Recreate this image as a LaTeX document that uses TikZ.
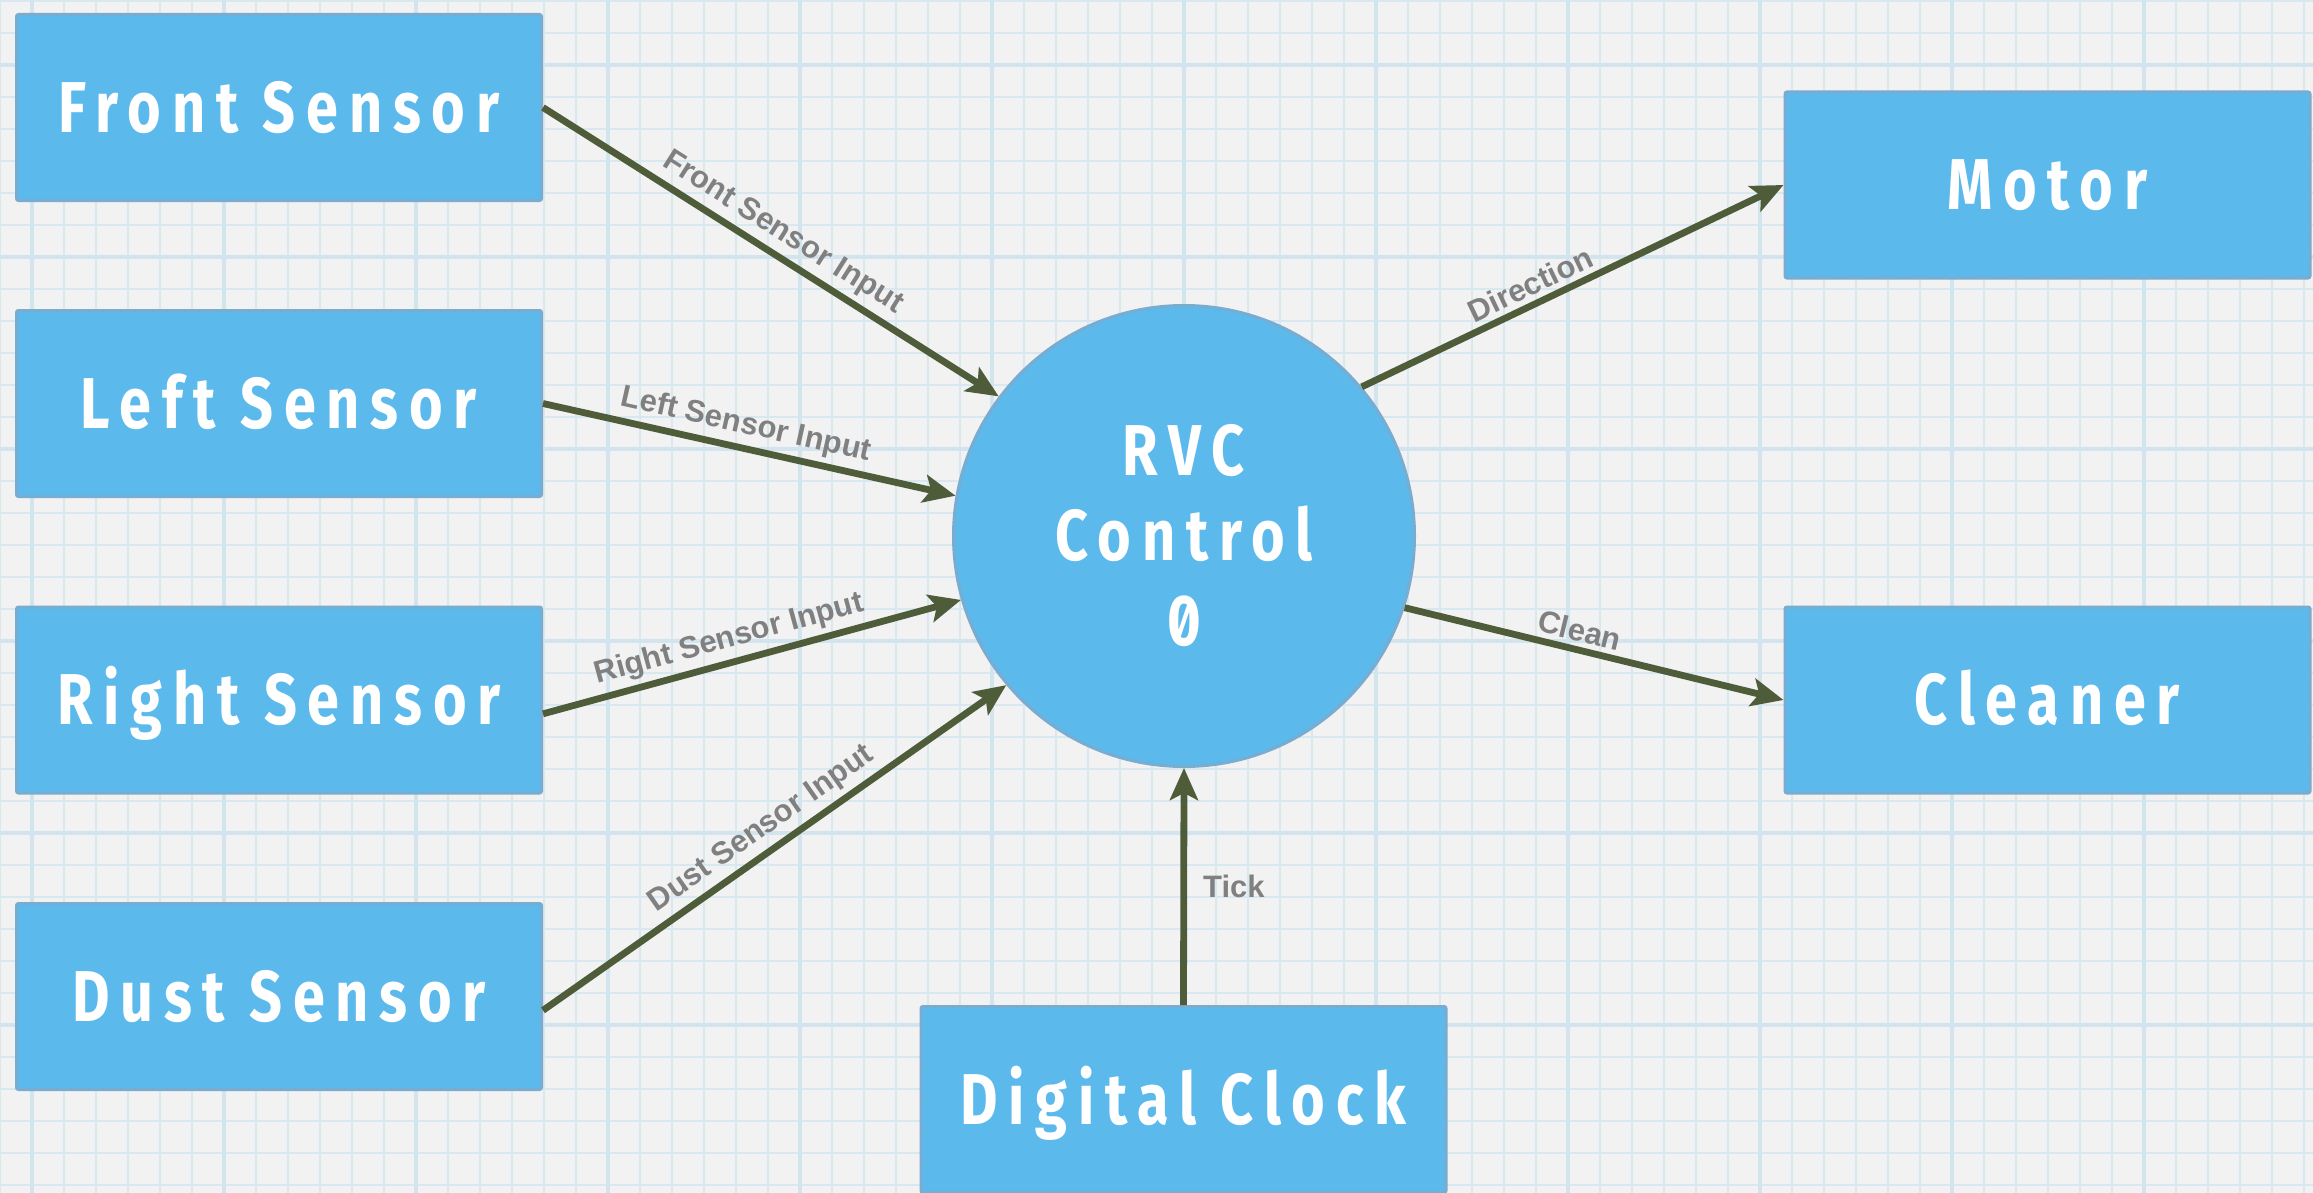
\documentclass[tikz,border=0pt]{standalone}
\usepackage{fontspec}
\setmainfont{Liberation Sans}
\newfontfamily\boxfont[FakeStretch=0.8,LetterSpace=15,Numbers=SlashedZero]{Fira Sans}
\usetikzlibrary{arrows.meta}

\definecolor{paper}{RGB}{242,242,242}
\definecolor{gridminor}{RGB}{216,232,240}
\definecolor{gridmajor}{RGB}{210,228,238}
\definecolor{boxfill}{RGB}{92,185,235}
\definecolor{boxline}{RGB}{120,172,208}
\definecolor{flowline}{RGB}{78,92,58}
\definecolor{flowtext}{RGB}{128,128,128}

\begin{document}
\begin{tikzpicture}[x=0.5pt,y=-0.5pt,
  block/.style={draw=boxline, line width=1.5pt, fill=boxfill, rounded corners=1pt,
    minimum width=262.5pt, minimum height=93pt, inner sep=0pt, text=white,
    font=\boxfont\bfseries\fontsize{36pt}{42.5pt}\selectfont,
    text height=24.8pt, text depth=0pt},
  hub/.style={circle, draw=boxline, line width=1.5pt, fill=boxfill,
    minimum size=230.5pt, inner sep=0pt, text=white, align=center,
    font=\boxfont\bfseries\fontsize{36pt}{42.5pt}\selectfont},
  flow/.style={draw=flowline, line width=3.4pt,
    -{Stealth[length=16pt,width=14pt,inset=3.5pt]}},
  lab/.style={font=\bfseries\fontsize{15.5pt}{18pt}\selectfont,
    text=flowtext, inner sep=2.5pt}]

% paper background with graph grid
\clip (0,0) rectangle (2313,1193);
\fill[paper] (0,0) rectangle (2313,1193);
\foreach \x in {0,32,...,2304}
  \draw[gridminor, line width=0.9pt] (\x,0) -- (\x,1193);
\foreach \y in {1,33,...,1185}
  \draw[gridminor, line width=0.9pt] (0,\y) -- (2313,\y);
\foreach \x in {32,224,...,2313}
  \draw[gridmajor, line width=1.7pt] (\x,0) -- (\x,1193);
\foreach \y in {65,257,...,1193}
  \draw[gridmajor, line width=1.7pt] (0,\y) -- (2313,\y);

% sensors
\node[block] (front) at (279,107.5) {Front Sensor};
\node[block] (left)  at (279,403.5) {Left Sensor};
\node[block] (right) at (279,700)   {Right Sensor};
\node[block] (dust)  at (279,996.5) {Dust Sensor};

% controller
\node[hub] (rvc) at (1184,536) {RVC\\Control\\0};

% actuators and clock
\node[block] (motor)   at (2047.5,185) {Motor};
\node[block] (cleaner) at (2047.5,700) {Cleaner};
\node[block] (clock)   at (1183.5,1099.5) {Digital Clock};

% data flows
\draw[flow] (front.east) -- node[lab, sloped, above, pos=0.5] {Front Sensor Input} (rvc.143);
\draw[flow] (left.east)  -- node[lab, sloped, above, pos=0.48] {Left Sensor Input} (rvc.170);
\draw[flow] (right.-3)   -- node[lab, sloped, above, pos=0.46] {Right Sensor Input} (rvc.196);
\draw[flow] (dust.-3.4)  -- node[lab, sloped, above, pos=0.5] {Dust Sensor Input} (rvc.220);
\draw[flow] (rvc.40)     -- node[lab, sloped, above, pos=0.42] {Direction} (motor.west);
\draw[flow] (rvc.-18.6)  -- node[lab, sloped, above, pos=0.45] {Clean} (cleaner.west);
\draw[flow] (clock.north) -- node[lab, right, inner sep=8pt, pos=0.5] {Tick} (rvc.south);
\end{tikzpicture}
\end{document}
